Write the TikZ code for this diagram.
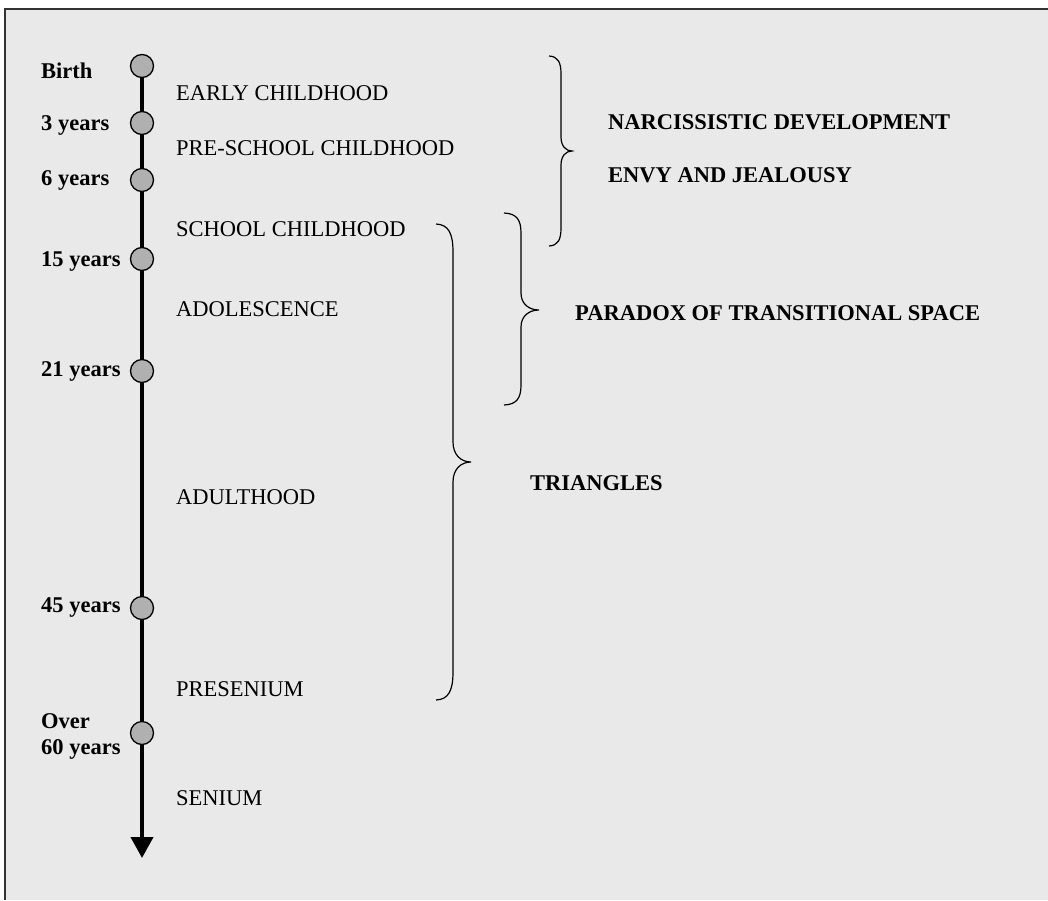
\documentclass[tikz,border=0pt]{standalone}
\usepackage{fontspec}
\setmainfont{Liberation Serif}
\usetikzlibrary{arrows.meta}
\definecolor{panel}{RGB}{233,233,233}
\definecolor{dotfill}{RGB}{176,176,176}
% curly brace opening to the left, tip pointing right
% #1 end x, #2 stem x, #3 tip x, #4 top y, #5 tip y, #6 bottom y, #7 end curl, #8 tip curl
\newcommand\lifebrace[8]{%
  \draw[bracestyle] (#1,#4)
    .. controls ({#1+0.75*(#2-#1)},{#4+0.5}) and (#2,{#4+0.35*#7}) .. (#2,{#4+#7})
    -- (#2,{#5-#8})
    .. controls (#2,{#5-0.35*#8}) and ({#2+0.45*(#3-#2)},#5) .. (#3,#5)
    .. controls ({#2+0.45*(#3-#2)},#5) and (#2,{#5+0.35*#8}) .. (#2,{#5+#8})
    -- (#2,{#6-#7})
    .. controls (#2,{#6-0.35*#7}) and ({#1+0.75*(#2-#1)},{#6-0.5}) .. (#1,#6);}
\begin{document}
\begin{tikzpicture}[x=1pt,y=-1pt,
  agelabel/.style={font=\fontsize{22.5}{26}\selectfont\bfseries,anchor=west,align=left,inner sep=0pt},
  stagelabel/.style={font=\fontsize{22.5}{26}\selectfont,anchor=west,inner sep=0pt},
  themelabel/.style={font=\fontsize{22.5}{26}\selectfont\bfseries,anchor=west,inner sep=0pt},
  milestone/.style={circle,draw=black,line width=1.3pt,fill=dotfill,minimum size=23pt,inner sep=0pt},
  bracestyle/.style={draw=black,line width=1.2pt},
  axis/.style={line width=4pt,-{Triangle[width=22pt,length=21pt]}}]
\useasboundingbox (0,0) rectangle (1048,900);
\fill[white] (0,0) rectangle (1048,900);
\fill[panel] (5,9) rectangle (1048,900);
\draw[line width=1.6pt,black!80] (5,900) -- (5,9) -- (1048,9);

% timeline and its milestones
\coordinate (start) at (142,66);
\coordinate (finish) at (142,858);
\draw[axis] (start) -- (finish);
\node[milestone] (m0) at (142,66) {};
\node[milestone] (m3) at (142,123) {};
\node[milestone] (m6) at (142,180) {};
\node[milestone] (m15) at (142,259) {};
\node[milestone] (m21) at (142,371) {};
\node[milestone] (m45) at (142,608) {};
\node[milestone] (m60) at (142,733) {};

% ages
\node[agelabel] (a0) at (41,71) {Birth};
\node[agelabel] (a3) at (41,125) {3 years};
\node[agelabel] (a6) at (41,180) {6 years};
\node[agelabel] (a15) at (41,261) {15 years};
\node[agelabel] (a21) at (41,371) {21 years};
\node[agelabel] (a45) at (41,608) {45 years};
\node[agelabel] (a60) at (41,736) {Over\\60 years};

% stages of life
\node[stagelabel] (s1) at (176,93) {EARLY CHILDHOOD};
\node[stagelabel] (s2) at (176,148) {PRE-SCHOOL CHILDHOOD};
\node[stagelabel] (s3) at (176,229) {SCHOOL CHILDHOOD};
\node[stagelabel] (s4) at (176,309) {ADOLESCENCE};
\node[stagelabel] (s5) at (176,497) {ADULTHOOD};
\node[stagelabel] (s6) at (176,689) {PRESENIUM};
\node[stagelabel] (s7) at (176,798) {SENIUM};

% braces and themes
\lifebrace{549}{561}{572}{56}{151}{246}{18}{14}
\lifebrace{504}{521}{539}{213}{310}{405}{20}{17}
\lifebrace{436}{453}{471}{224}{462}{700}{28}{20}
\node[themelabel] (t1) at (608,122) {NARCISSISTIC DEVELOPMENT};
\node[themelabel] (t2) at (608,175) {ENVY AND JEALOUSY};
\node[themelabel] (t3) at (575,313) {PARADOX OF TRANSITIONAL SPACE};
\node[themelabel] (t4) at (530,483) {TRIANGLES};
\end{tikzpicture}
\end{document}
